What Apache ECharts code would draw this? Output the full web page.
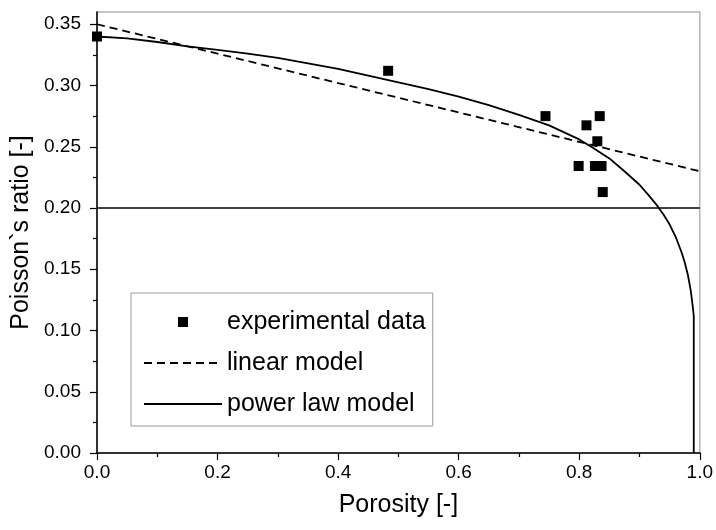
<!DOCTYPE html>
<html><head><meta charset="utf-8">
<script src="https://cdn.jsdelivr.net/npm/echarts@6/dist/echarts.min.js"></script>
<style>html,body{margin:0;padding:0;background:#fff}#c{width:716px;height:530px}</style>
</head><body><div id="c"></div>
<script>
// experimental data
const expX = [0.0, 0.483, 0.744, 0.812, 0.834, 0.830, 0.799, 0.826, 0.837, 0.839];
const expY = [0.340, 0.312, 0.275, 0.2675, 0.275, 0.2545, 0.2343, 0.2343, 0.2343, 0.213];
// linear model
const linX = [0, 1];
const linY = [0.35, 0.23];
// power law model
const powX = [0, 0.05, 0.1, 0.15, 0.2, 0.25, 0.3, 0.35, 0.4, 0.45, 0.5, 0.55, 0.6, 0.65, 0.7, 0.75, 0.8, 0.82, 0.85, 0.875, 0.9, 0.915, 0.93, 0.94, 0.95, 0.96, 0.97, 0.975, 0.98, 0.985, 0.988, 0.99, 0.99];
const powY = [0.340, 0.3385, 0.3355, 0.332, 0.329, 0.326, 0.3225, 0.318, 0.3135, 0.308, 0.3025, 0.297, 0.291, 0.284, 0.276, 0.2675, 0.256, 0.250, 0.2405, 0.230, 0.219, 0.2105, 0.2015, 0.1945, 0.1865, 0.1765, 0.1635, 0.1555, 0.146, 0.1325, 0.121, 0.112, 0.0];
// reference line
const refX = [0, 1];
const refY = [0.2, 0.2];
// ticks
const yTicks = [0, 0.05, 0.10, 0.15, 0.20, 0.25, 0.30, 0.35];
const yMinor = [0.025, 0.075, 0.125, 0.175, 0.225, 0.275, 0.325];

const zip = (a, b) => a.map((v, i) => [v, b[i]]);
const FONT = '"Liberation Sans", Arial, sans-serif';

const chart = echarts.init(document.getElementById('c'), null, {renderer: 'canvas'});
chart.setOption({
  animation: false,
  backgroundColor: '#fff',
  textStyle: {fontFamily: FONT},
  grid: {left: 97, right: 14, top: 12, bottom: 77, show: true, borderColor: '#b4b4b4', borderWidth: 1.5, backgroundColor: 'transparent'},
  legend: {
    orient: 'vertical', left: 131, top: 293,
    itemWidth: 78, itemHeight: 10, itemGap: 15,
    selectedMode: false,
    backgroundColor: '#fff', borderColor: '#999', borderWidth: 1,
    padding: [16, 7, 9, 12],
    textStyle: {fontSize: 25, lineHeight: 26, color: '#000', fontFamily: FONT},
    data: [
      {name: 'experimental data', icon: 'path://M0,0L10,0L10,10L0,10Z', itemStyle: {opacity: 1}},
      {name: 'linear model', itemStyle: {opacity: 0}},
      {name: 'power law model', itemStyle: {opacity: 0}}
    ]
  },
  xAxis: {
    type: 'value', min: 0, max: 1, interval: 0.2,
    name: 'Porosity [-]', nameLocation: 'middle', nameGap: 40,
    nameTextStyle: {fontSize: 25, color: '#000', fontFamily: FONT},
    axisLine: {lineStyle: {color: '#000', width: 1.5}},
    axisTick: {length: 7, lineStyle: {color: '#000', width: 1.2}},
    minorTick: {show: true, splitNumber: 2, length: 4, lineStyle: {color: '#000', width: 1.2}},
    axisLabel: {fontSize: 19, color: '#000', margin: 10, formatter: v => v.toFixed(1), fontFamily: FONT},
    splitLine: {show: false}
  },
  yAxis: [{
    type: 'value', min: 0, max: 0.36,
    name: 'Poisson`s ratio [-]', nameLocation: 'middle', nameGap: 48,
    nameTextStyle: {fontSize: 25, color: '#000', fontFamily: FONT},
    axisLine: {show: true, lineStyle: {color: '#000', width: 1.5}},
    axisTick: {show: true, length: 7, customValues: yTicks, lineStyle: {color: '#000', width: 1.2}},
    axisLabel: {fontSize: 19, color: '#000', margin: 16, customValues: yTicks, formatter: v => v.toFixed(2), fontFamily: FONT},
    splitLine: {show: false}
  }, {
    type: 'value', min: 0, max: 0.36, position: 'left',
    axisLine: {show: false},
    axisTick: {show: true, length: 4, customValues: yMinor, lineStyle: {color: '#000', width: 1.2}},
    axisLabel: {show: false},
    splitLine: {show: false}
  }],
  series: [
    {name: 'ref', type: 'line', data: zip(refX, refY), symbol: 'none', lineStyle: {color: '#000', width: 1.4}, z: 2, silent: true},
    {name: 'linear model', type: 'line', data: zip(linX, linY), symbol: 'none', itemStyle: {color: '#000'}, lineStyle: {color: '#000', width: 1.8, type: [8, 5]}, z: 3},
    {name: 'power law model', type: 'line', data: zip(powX, powY), symbol: 'none', itemStyle: {color: '#000'}, lineStyle: {color: '#000', width: 1.8}, z: 3},
    {name: 'experimental data', type: 'scatter', data: zip(expX, expY), symbol: 'rect', symbolSize: 10, itemStyle: {color: '#000', opacity: 1}, z: 4}
  ]
});
</script></body></html>
